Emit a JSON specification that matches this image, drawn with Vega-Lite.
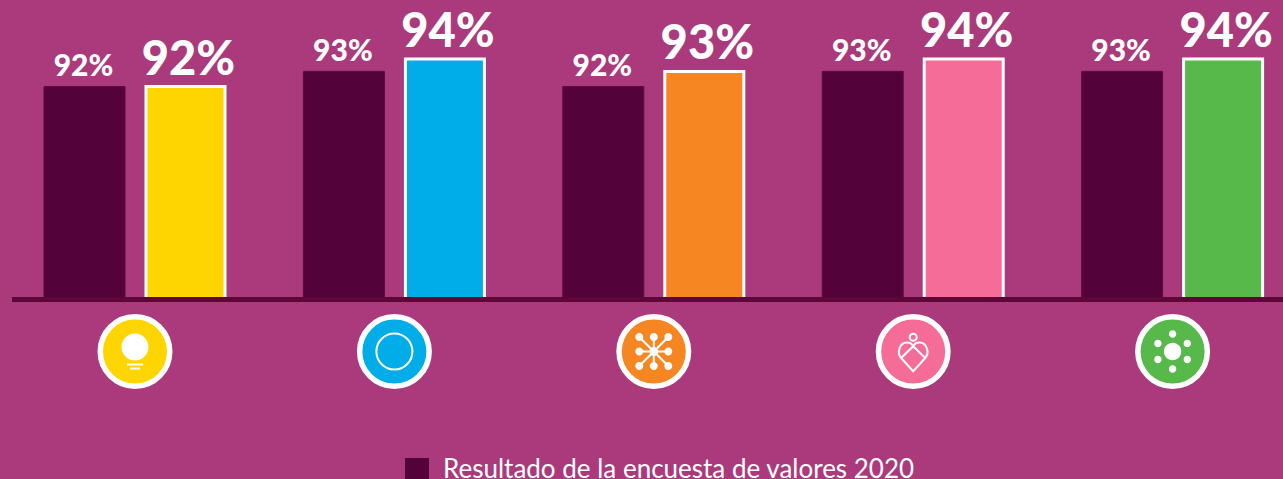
{
"$schema":"https://vega.github.io/schema/vega-lite/v6.json",
"width":1271,"height":479,"autosize":{"type":"none"},
"padding":{"left":12,"top":0,"right":0,"bottom":0},
"background":"#aa3a7c",
"config":{"view":{"stroke":null}},
"datasets":{
"barras":[
{"grupo":"A","tipo":"encuesta","serie":"Resultado de la encuesta de valores 2020","valor":0.92},
{"grupo":"A","tipo":"valor","serie":"Valor A","valor":0.92},
{"grupo":"B","tipo":"encuesta","serie":"Resultado de la encuesta de valores 2020","valor":0.931},
{"grupo":"B","tipo":"valor","serie":"Valor B","valor":0.94},
{"grupo":"C","tipo":"encuesta","serie":"Resultado de la encuesta de valores 2020","valor":0.92},
{"grupo":"C","tipo":"valor","serie":"Valor C","valor":0.931},
{"grupo":"D","tipo":"encuesta","serie":"Resultado de la encuesta de valores 2020","valor":0.931},
{"grupo":"D","tipo":"valor","serie":"Valor D","valor":0.94},
{"grupo":"E","tipo":"encuesta","serie":"Resultado de la encuesta de valores 2020","valor":0.931},
{"grupo":"E","tipo":"valor","serie":"Valor E","valor":0.94}],
"iconos":[
{"grupo":"A","serie":"Valor A"},{"grupo":"B","serie":"Valor B"},{"grupo":"C","serie":"Valor C"},{"grupo":"D","serie":"Valor D"},{"grupo":"E","serie":"Valor E"}],
"relleno":[{"grupo":"A","glifo":"bombilla"},{"grupo":"C","glifo":"nodos"},{"grupo":"E","glifo":"puntos"}],
"linea":[{"grupo":"B","glifo":"aro"},{"grupo":"C","glifo":"radios"},{"grupo":"D","glifo":"corazon"}]
},
"encoding":{
  "x":{"field":"grupo","type":"nominal","axis":null,"scale":{"domain":["A","B","C","D","E"],"range":[-6.7,1290.3],"paddingInner":0,"paddingOuter":0}}
},
"layer":[
{"data":{"name":"barras"},
 "mark":{"type":"bar","strokeWidth":3,"stroke":"#ffffff","width":79},
 "transform":[{"filter":"datum.tipo==='valor'"}],
 "encoding":{
  "xOffset":{"field":"tipo","type":"nominal","scale":{"domain":["encuesta","valor"],"paddingInner":0.188,"paddingOuter":0.378}},
  "y":{"field":"valor","type":"quantitative","axis":null,"scale":{"domain":[0.6346,0.9829],"range":[479,0],"nice":false,"zero":false}},
  "y2":{"datum":0.7651},
  "color":{"field":"serie","type":"nominal","scale":{"domain":["Resultado de la encuesta de valores 2020","Valor A","Valor B","Valor C","Valor D","Valor E"],"range":["#54033a","#ffd500","#00ade9","#f68622","#f56c98","#57b94a"]},
   "legend":{"values":["Resultado de la encuesta de valores 2020"],"title":null,"orient":"none","legendX":392,"legendY":457,"symbolType":"square","symbolSize":576,"symbolStrokeWidth":0,"symbolOpacity":1,"labelFontSize":26,"labelFont":"Lato","labelColor":"#ffffff","labelLimit":700,"labelOffset":13,"padding":0}}
 }},
{"data":{"name":"barras"},
 "mark":{"type":"bar","strokeWidth":1,"stroke":"#5e0a3d","width":81},
 "transform":[{"filter":"datum.tipo==='encuesta'"}],
 "encoding":{
  "xOffset":{"field":"tipo","type":"nominal","scale":{"domain":["encuesta","valor"],"paddingInner":0.188,"paddingOuter":0.378}},
  "y":{"field":"valor","type":"quantitative","axis":null},
  "y2":{"datum":0.7651},
  "color":{"field":"serie","type":"nominal"}
 }},
{"data":{"name":"barras"},
 "mark":{"type":"text","font":"Lato","fontWeight":900,"fontSize":30,"color":"#ffffff","baseline":"alphabetic","dy":-10.5,"dx":-1},
 "transform":[{"filter":"datum.tipo==='encuesta'"}],
 "encoding":{
  "xOffset":{"field":"tipo","type":"nominal","scale":{"domain":["encuesta","valor"],"paddingInner":0.188,"paddingOuter":0.378}},
  "y":{"field":"valor","type":"quantitative","axis":null},
  "text":{"field":"valor","type":"quantitative","format":".0%"}
 }},
{"data":{"name":"barras"},
 "mark":{"type":"text","font":"Lato","fontWeight":900,"fontSize":47,"color":"#ffffff","baseline":"alphabetic","dy":-12,"dx":3},
 "transform":[{"filter":"datum.tipo==='valor'"}],
 "encoding":{
  "xOffset":{"field":"tipo","type":"nominal","scale":{"domain":["encuesta","valor"],"paddingInner":0.188,"paddingOuter":0.378}},
  "y":{"field":"valor","type":"quantitative","axis":null},
  "text":{"field":"valor","type":"quantitative","format":".0%"}
 }},
{"data":{"name":"iconos"},
 "mark":{"type":"point","filled":true,"stroke":"#ffffff","strokeWidth":5.5,"opacity":1,"shape":"circle","size":4830},
 "encoding":{
  "y":{"datum":0.7273,"type":"quantitative","axis":null},
  "color":{"field":"serie","type":"nominal"}
 }},
{"data":{"name":"relleno"},
 "mark":{"type":"point","filled":true,"fill":"#ffffff","strokeWidth":0,"opacity":1,"size":4},
 "encoding":{
  "y":{"datum":0.7273,"type":"quantitative","axis":null},
  "shape":{"field":"glifo","type":"nominal","legend":null,"scale":{"domain":["bombilla","nodos","puntos","aro","radios","corazon"],"range":[
   "M-13.5,-4.5a13.5,13.5 0 1,0 27,0a13.5,13.5 0 1,0 -27,0ZM-8,12H8V14H-8ZM-5,16H5V18H-5Z",
   "M-4.5,0a4.5,4.5 0 1,0 9,0a4.5,4.5 0 1,0 -9,0ZM-18.5,-14.5a4,4 0 1,0 8,0a4,4 0 1,0 -8,0ZM-4,-14.5a4,4 0 1,0 8,0a4,4 0 1,0 -8,0ZM10.5,-14.5a4,4 0 1,0 8,0a4,4 0 1,0 -8,0ZM-18.5,0a4,4 0 1,0 8,0a4,4 0 1,0 -8,0ZM10.5,0a4,4 0 1,0 8,0a4,4 0 1,0 -8,0ZM-18.5,14.5a4,4 0 1,0 8,0a4,4 0 1,0 -8,0ZM-4,14.5a4,4 0 1,0 8,0a4,4 0 1,0 -8,0ZM10.5,14.5a4,4 0 1,0 8,0a4,4 0 1,0 -8,0Z",
   "M-8.7,0a8.7,8.7 0 1,0 17.4,0a8.7,8.7 0 1,0 -17.4,0ZM-3.7,-17.5a3.7,3.7 0 1,0 7.4,0a3.7,3.7 0 1,0 -7.4,0ZM-3.7,17.5a3.7,3.7 0 1,0 7.4,0a3.7,3.7 0 1,0 -7.4,0ZM11,-8a3.7,3.7 0 1,0 7.4,0a3.7,3.7 0 1,0 -7.4,0ZM11,8a3.7,3.7 0 1,0 7.4,0a3.7,3.7 0 1,0 -7.4,0ZM-18.4,-8a3.7,3.7 0 1,0 7.4,0a3.7,3.7 0 1,0 -7.4,0ZM-18.4,8a3.7,3.7 0 1,0 7.4,0a3.7,3.7 0 1,0 -7.4,0Z",
   "M-18,0a18,18 0 1,0 36,0a18,18 0 1,0 -36,0Z",
   "M-14.5,-14.5L14.5,14.5M14.5,-14.5L-14.5,14.5M0,-14.5V14.5M-14.5,0H14.5",
   "M-3.5,-14.3a3.5,3.5 0 1,0 7,0a3.5,3.5 0 1,0 -7,0ZM0,19.7L-12,6.5C-17,1 -13,-9 -6.5,-9C-3.5,-9 -1,-7.5 0,-5.3C1,-7.5 3.5,-9 6.5,-9C13,-9 17,1 12,6.5ZM-11.5,6L0,-5.3L11.5,6"
  ]}}
 }},
{"data":{"name":"linea"},
 "mark":{"type":"point","filled":false,"stroke":"#ffffff","strokeWidth":2,"opacity":1,"size":4},
 "encoding":{
  "y":{"datum":0.7273,"type":"quantitative","axis":null},
  "shape":{"field":"glifo","type":"nominal","legend":null}
 }},
{"data":{"values":[{"base":0.7651}]},
 "mark":{"type":"rule","color":"#5f0639","strokeWidth":5},
 "encoding":{"x":null,"y":{"field":"base","type":"quantitative","axis":null}}}
]
}
